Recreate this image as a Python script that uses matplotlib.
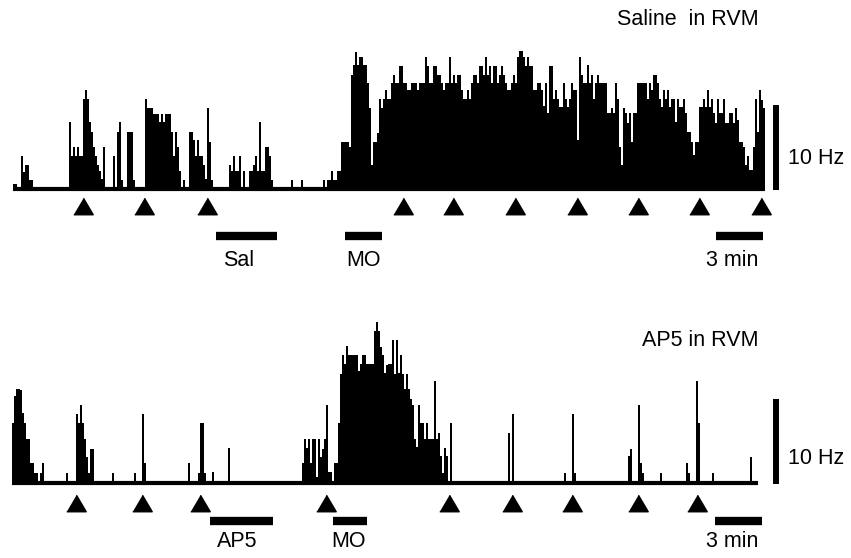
import numpy as np
import matplotlib.pyplot as plt

plt.rcParams['font.family'] = ['Liberation Sans', 'DejaVu Sans']

# firing rate per bin (Hz), bin width in seconds
bin_s = 7.7

saline_hz = [0.3, 0.3, 0, 0, 3.7, 1.8, 2.6, 2.6, 0.8, 0.8] + [0] * 18 + \
    [7.6, 3.7, 4.7, 3.7, 4.7, 3.7, 3.7, 10.4, 11.4, 10.4, 7.6, 6.5, 4.7, 3.7, 2.6, 1.9, 1.0, 4.7] + \
    [0] * 4 + [3.7, 0, 6.5, 7.6, 0.8, 0, 0, 6.5, 6.5, 6.5, 0.8] + [0] * 5 + \
    [10.4, 9.3, 9.3, 9.3, 8.6, 8.6, 8.6, 7.6, 8.6, 7.6, 8.6, 8.6, 8.6, 6.5, 3.7, 6.5, 4.7, 1.9,
     0, 0.8, 0, 0, 6.5, 6.5, 5.5, 3.7, 5.5, 3.7, 3.7, 2.6, 1.0, 9.3, 5.3, 0.8] + [0] * 8 + \
    [2.6, 1.9, 3.6, 1.9, 1.9, 3.6, 0, 1.9, 0, 0, 1.9, 1.9, 2.6, 3.6, 1.9, 7.6, 1.9, 1.9,
     4.7, 4.7, 3.6, 0.8] + [0] * 9 + [0.8] + [0] * 4 + [0.8] + [0] * 10 + \
    [0.8, 0, 0.8, 0.8, 1.9, 0.8, 0.8, 1.9, 1.9, 5.3, 5.3, 5.3, 5.3, 4.7,
     13.2, 14.4, 15.9, 14.4, 15.3, 15.3, 14.4, 14.4, 12.2, 9.3, 2.6, 5.3, 5.3, 6.4,
     10.3, 9.3, 10.3, 11.4, 10.4, 10.4, 12.2, 13.2, 12.2, 12.2, 14.2, 14.2, 12.2, 12.2,
     11.4, 11.4, 12.2, 12.2, 12.2, 11.4, 12.2, 12.2, 12.2, 15.3, 14.2, 12.2, 12.2, 14.2,
     14.2, 13.2, 13.2, 12.2, 11.4, 12.2, 12.2, 15.3, 12.2, 13.2, 12.2, 13.2, 13.2, 11.4,
     10.4, 10.4, 11.4, 10.4, 12.2, 13.2, 13.2, 12.2, 14.2, 14.2, 13.2, 15.3, 13.2, 14.2,
     12.2, 14.2, 14.2, 12.2, 13.2, 14.2, 13.2, 12.2, 11.4, 11.4, 12.2, 13.2, 12.2, 15.3,
     16.0, 16.0, 15.3, 14.2, 15.3, 14.2, 14.2, 11.4, 11.4, 12.2, 12.2, 11.4, 9.5, 12.2,
     8.7, 14.2, 14.2, 10.4, 11.4, 10.4, 9.4, 9.4, 12.2, 10.4, 9.4, 10.4, 12.2, 11.4,
     11.4, 5.5, 15.3, 13.2, 12.2, 12.2, 14.4, 12.2, 13.2, 10.4, 12.2, 13.2, 12.2, 12.2,
     12.2, 12.2, 8.7, 8.7, 9.3, 8.7, 12.2, 10.4, 4.7, 2.6, 9.3, 8.7, 7.5, 8.7, 5.3, 8.7,
     8.7, 12.2, 12.2, 12.2, 12.2, 12.2, 10.4, 12.2, 11.4, 13.2, 13.2, 12.2, 10.4, 9.4,
     11.4, 10.4, 11.4, 9.4, 10.4, 10.4, 7.7, 10.4, 9.4, 9.4, 10.4, 8.7, 6.5, 6.5, 5.3,
     3.8, 5.3, 5.3, 9.4, 9.4, 10.4, 9.4, 11.4, 9.4, 10.4, 8.7, 7.5, 10.4, 8.7, 8.7, 10.4,
     7.5, 7.5, 8.7, 8.7, 7.5, 9.3, 7.9, 5.3, 5.3, 4.7, 2.6, 3.6, 2.0, 2.0, 4.7, 10.3,
     6.5, 11.4, 10.2, 9.3]

ap5_hz = [6.8, 10.0, 10.8, 10.8, 10.7, 8.0, 6.8, 4.9, 4.9, 2.1, 2.1, 1.0, 1.0, 0, 1.0, 2.1] + \
    [0] * 11 + [1.0] + [0] * 4 + [7.9, 6.8, 8.9, 6.8, 4.9, 2.8, 1.0, 3.8, 3.8] + [0] * 9 + \
    [1.0] + [0] * 10 + [1.0] + [0] * 3 + [7.9, 2.1] + [0] * 21 + [2.1] + [0] * 4 + \
    [1.0, 6.8, 6.8, 1.0] + [0] * 3 + [1.1] + [0] * 7 + [3.9] + [0] * 36 + \
    [2.1, 4.9, 3.9, 4.9, 2.1, 4.9, 4.9, 0.5, 4.9, 2.8, 3.8, 4.9, 8.9, 1.1, 1.1, 0, 2.1, 2.1,
     6.8, 12.6, 14.8, 13.8, 15.9, 14.8, 14.8, 14.8, 14.8, 14.8, 12.9, 13.8, 14.8, 14.8,
     13.8, 13.8, 13.8, 13.8, 17.6, 18.7, 17.6, 15.8, 14.8, 12.7, 13.6, 13.8, 13.8, 16.6,
     12.6, 16.6, 12.7, 14.8, 12.6, 10.8, 12.6, 10.8, 9.7, 8.9, 5.0, 4.0, 8.9, 6.8, 6.8,
     5.0, 6.8, 5.0, 5.0, 5.0, 11.8, 4.9, 5.7, 2.9, 1.0, 3.9, 2.9, 0, 6.8] + [0] * 28 + \
    [5.7, 0, 7.9] + [0] * 25 + [1.0] + [0] * 3 + [7.9, 1.0] + [0] * 26 + \
    [2.9, 3.8, 0, 0, 0, 8.9, 2.1, 1.0] + [0] * 8 + [1.0] + [0] * 12 + [2.1, 1.0] + [0] * 3 + \
    [11.8, 6.8] + [0] * 6 + [1.0] + [0] * 18 + [2.8, 0, 0, 0]

# arrow (stimulus) times in seconds
saline_arrows = [270, 505, 747, 1500, 1694, 1933, 2171, 2406, 2641, 2880]
ap5_arrows = [246, 500, 724, 1209, 1682, 1925, 2156, 2410, 2637]

# injection periods (s): label, start, end, label position
saline_inj = [('Sal', 781, 1016, 870), ('MO', 1278, 1421, 1351)]
ap5_inj = [('AP5', 762, 1005, 866), ('MO', 1236, 1367, 1297)]

scale_end = 2887
scale_len = 180  # 3 min

# wide, flat triangle for the stimulus markers
tri = [(-1, -0.85), (1, -0.85), (0, 0.85)]


def draw_panel(ax, rates, arrows, inj, title, x0_px, base_px, top_px,
               title_y, hz_y, arrow_y, bar_y, text_y):
    px_s = 3.85      # seconds per pixel
    px_hz = 8.5      # pixels per Hz
    ax.set_xlim(-x0_px * px_s, (851 - x0_px) * px_s)
    ax.set_ylim(-(top_px + 279 - base_px) / px_hz, (base_px - top_px) / px_hz)
    ax.axis('off')

    edges = np.arange(len(rates) + 1) * bin_s
    ax.stairs(rates, edges, fill=True, color='black', lw=0)
    ax.plot([0, edges[-1]], [-0.24, -0.24], color='black', lw=3, solid_capstyle='butt')

    ax.plot(arrows, [arrow_y] * len(arrows), marker=tri, ls='none', color='black', ms=14)

    for label, t0, t1, tx in inj:
        ax.plot([t0, t1], [bar_y, bar_y], color='black', lw=6, solid_capstyle='butt')
        ax.text(tx, text_y, label, ha='center', va='center', fontsize=15.5)

    ax.plot([scale_end - scale_len, scale_end], [bar_y, bar_y], color='black', lw=6,
            solid_capstyle='butt')
    ax.text((758 - x0_px) * px_s, text_y, '3 min', ha='right', va='center', fontsize=15.5)

    vx = (776 - x0_px) * px_s
    ax.plot([vx, vx], [-0.3, 9.7], color='black', lw=4.3, solid_capstyle='butt')
    ax.text(vx + 12 * px_s, hz_y, '10 Hz', ha='left', va='center', fontsize=15.5)

    ax.text((759 - x0_px) * px_s, title_y, title, ha='right', va='center', fontsize=15.5)


fig = plt.figure(figsize=(8.51, 5.58), dpi=100)
ax1 = fig.add_axes([0, 0.5, 1, 0.5])
ax2 = fig.add_axes([0, 0, 1, 0.5])

draw_panel(ax1, saline_hz, saline_arrows, saline_inj, 'Saline  in RVM',
           13, 187, 0, 19.65, 3.4, -2.24, -5.76, -8.6)
draw_panel(ax2, ap5_hz, ap5_arrows, ap5_inj, 'AP5 in RVM',
           12, 481, 279, 16.5, 2.7, -2.53, -4.7, -7.1)

fig.savefig('out.png', dpi=100)
